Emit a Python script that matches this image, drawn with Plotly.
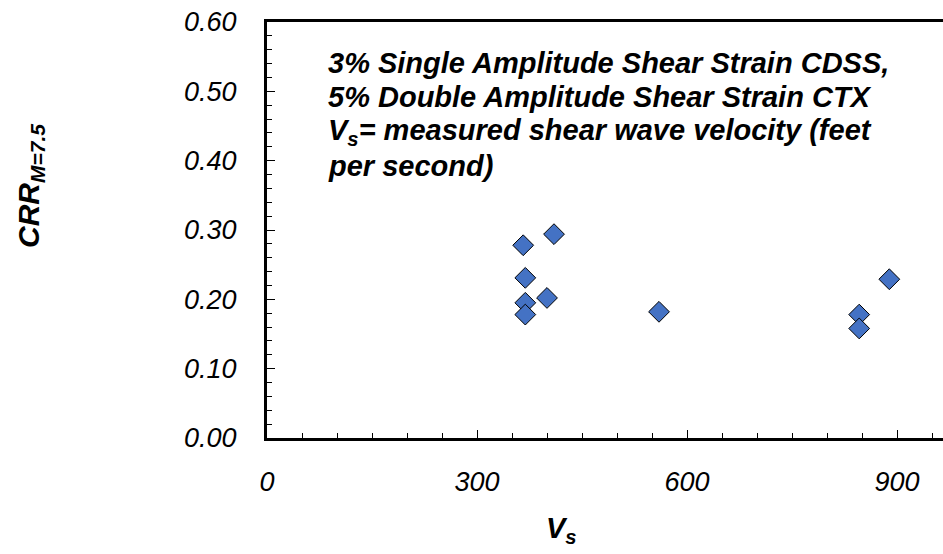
import plotly.graph_objects as go

# Data
vs_values = [366, 410, 369, 369, 400, 369, 560, 889, 846, 846]
crr_values = [0.278, 0.294, 0.231, 0.195, 0.202, 0.178, 0.182, 0.229, 0.178, 0.158]

x_ticks = [0, 300, 600, 900]
y_ticks = [0.0, 0.1, 0.2, 0.3, 0.4, 0.5, 0.6]

note_lines = [
    "<b><i>3% Single Amplitude Shear Strain CDSS,</i></b>",
    "<b><i>5% Double Amplitude Shear Strain CTX</i></b>",
    "<b><i>V<sub>s</sub>= measured shear wave velocity (feet</i></b>",
    "<b><i>per second)</i></b>",
]

W, H = 943, 554
L, R, T, B = 267, 0, 22, 116
plot_w = W - L - R
plot_h = H - T - B
x_max = plot_w / 0.7

FONT = "Liberation Sans, Arial, sans-serif"

fig = go.Figure()
fig.add_trace(go.Scatter(
    x=vs_values, y=crr_values, mode="markers",
    marker=dict(symbol="diamond", size=16, color="#4472C4",
                line=dict(color="black", width=1)),
    showlegend=False, cliponaxis=False,
))

fig.update_layout(
    width=W, height=H,
    margin=dict(l=L, r=R, t=T, b=B, pad=0),
    paper_bgcolor="white", plot_bgcolor="white",
    xaxis=dict(
        range=[0, x_max], tickvals=x_ticks, ticktext=[str(v) for v in x_ticks],
        showgrid=False, zeroline=False,
        showline=True, linecolor="black", linewidth=3, mirror=True,
        ticks="inside", ticklen=8, tickwidth=1, tickcolor="black",
        minor=dict(ticks="inside", dtick=50, ticklen=5, tickwidth=1, tickcolor="black", showgrid=False),
        tickfont=dict(family=FONT, size=27, color="black", style="italic"),
        ticklabelstandoff=18,
    ),
    yaxis=dict(
        range=[0, 0.6], tickvals=y_ticks, ticktext=[f"{v:.2f}" for v in y_ticks],
        showgrid=False, zeroline=False,
        showline=True, linecolor="black", linewidth=3, mirror=False,
        ticks="inside", ticklen=8, tickwidth=1, tickcolor="black",
        minor=dict(ticks="inside", dtick=0.02, ticklen=5, tickwidth=1, tickcolor="black", showgrid=False),
        tickfont=dict(family=FONT, size=27, color="black", style="italic"),
        ticklabelstandoff=22,
    ),
)

def px_to_paper_x(px):
    return (px - L) / plot_w

def px_to_paper_y(py):
    return (H - B - py) / plot_h

line_mid = [62.7, 97.2, 131.7, 166.0]
for txt, py in zip(note_lines, line_mid):
    fig.add_annotation(
        text=txt, xref="paper", yref="paper",
        x=px_to_paper_x(326), y=px_to_paper_y(py),
        xanchor="left", yanchor="middle", showarrow=False,
        font=dict(family=FONT, size=29, color="black"),
    )

# axis titles
fig.add_annotation(
    text="<b><i>V<sub>s</sub></i></b>", xref="paper", yref="paper",
    x=px_to_paper_x(561), y=px_to_paper_y(530),
    xanchor="center", yanchor="middle", showarrow=False,
    font=dict(family=FONT, size=29, color="black"),
)
fig.add_annotation(
    text="<b><i>CRR<sub>M=7.5</sub></i></b>", xref="paper", yref="paper",
    x=px_to_paper_x(30), y=px_to_paper_y(186),
    xanchor="center", yanchor="middle", showarrow=False, textangle=-90,
    font=dict(family=FONT, size=30, color="black"),
)

fig.write_html("out.html")
